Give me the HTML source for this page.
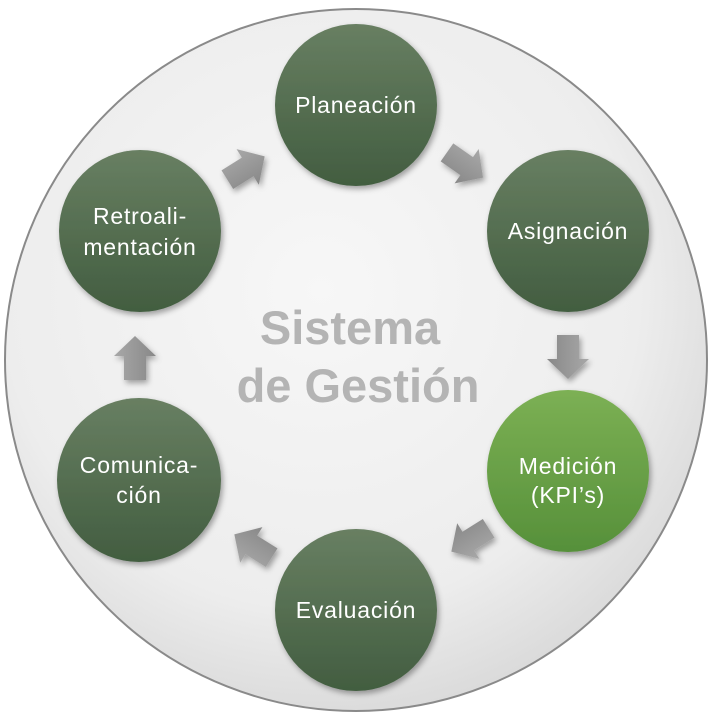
<!DOCTYPE html>
<html><head><style>
html,body{margin:0;padding:0;background:#fff;width:713px;height:718px;overflow:hidden}
</style></head><body>
<svg width="713" height="718" viewBox="0 0 713 718" xmlns="http://www.w3.org/2000/svg">
<defs>
<radialGradient id="bg" cx="0.45" cy="0.4" r="0.65">
<stop offset="0" stop-color="#f7f7f7"/><stop offset="0.7" stop-color="#ededed"/><stop offset="1" stop-color="#d6d6d6"/>
</radialGradient>
<linearGradient id="g" x1="0" y1="0" x2="0" y2="1">
<stop offset="0" stop-color="#687f62"/><stop offset="1" stop-color="#425d40"/>
</linearGradient>
<linearGradient id="gm" x1="0" y1="0" x2="0" y2="1">
<stop offset="0" stop-color="#7cb054"/><stop offset="1" stop-color="#56903a"/>
</linearGradient>
<linearGradient id="ag" x1="0" y1="0" x2="0" y2="1">
<stop offset="0" stop-color="#a8a8a8"/><stop offset="1" stop-color="#888"/>
</linearGradient>
<filter id="sh" x="-20%" y="-20%" width="140%" height="140%"><feDropShadow dx="2" dy="3" stdDeviation="3" flood-opacity="0.35"/></filter>
</defs>
<circle cx="356" cy="360" r="351" fill="url(#bg)" stroke="#8a8a8a" stroke-width="2"/>
<g font-family="Liberation Sans, sans-serif" font-size="23" letter-spacing="0.8" fill="#fff" text-anchor="middle">
<circle cx="356" cy="105" r="81" fill="url(#g)" filter="url(#sh)"/>
<text x="356" y="113">Planeación</text>
<circle cx="568" cy="231" r="81" fill="url(#g)" filter="url(#sh)"/>
<text x="568" y="239">Asignación</text>
<circle cx="568" cy="471" r="81" fill="url(#gm)" filter="url(#sh)"/>
<text x="568" y="474">Medición</text><text x="568" y="503">(KPI’s)</text>
<circle cx="356" cy="610" r="81" fill="url(#g)" filter="url(#sh)"/>
<text x="356" y="618">Evaluación</text>
<circle cx="139" cy="480" r="82" fill="url(#g)" filter="url(#sh)"/>
<text x="139" y="473">Comunica-</text><text x="139" y="503">ción</text>
<circle cx="140" cy="231" r="81" fill="url(#g)" filter="url(#sh)"/>
<text x="140" y="224">Retroali-</text><text x="140" y="255">mentación</text>
</g>
<g fill="url(#ag)" filter="url(#sh)">
<polygon points="-22,-11 2,-11 2,-21 22,0 2,21 2,11 -22,11" transform="translate(465,165) rotate(35)"/>
<polygon points="-22,-11 2,-11 2,-21 22,0 2,21 2,11 -22,11" transform="translate(568,357) rotate(90)"/>
<polygon points="-22,-11 2,-11 2,-21 22,0 2,21 2,11 -22,11" transform="translate(470,540) rotate(148)"/>
<polygon points="-22,-11 2,-11 2,-21 22,0 2,21 2,11 -22,11" transform="translate(253,546) rotate(212)"/>
<polygon points="-22,-11 2,-11 2,-21 22,0 2,21 2,11 -22,11" transform="translate(135,358) rotate(270)"/>
<polygon points="-22,-11 2,-11 2,-21 22,0 2,21 2,11 -22,11" transform="translate(246,168) rotate(-32)"/>
</g>
<g font-family="Liberation Sans, sans-serif" font-size="47" font-weight="bold" fill="#b4b4b4" text-anchor="middle">
<text x="350" y="344">Sistema</text>
<text x="358" y="402">de Gestión</text>
</g>
</svg>
</body></html>
